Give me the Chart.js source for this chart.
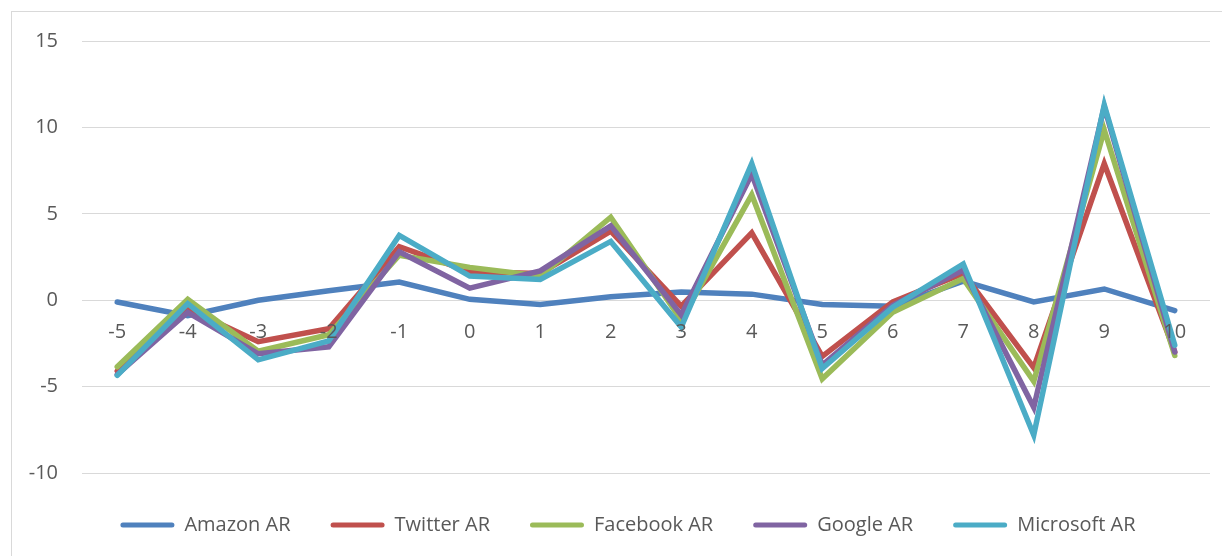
<!DOCTYPE html>
<html>
<head>
<meta charset="utf-8">
<script src="https://cdn.jsdelivr.net/npm/chart.js@4/dist/chart.umd.min.js"></script>
<style>
  html, body { margin: 0; padding: 0; background: #ffffff; overflow: hidden; }
  #wrap { position: relative; width: 1222px; height: 556px; }
  #frame { position: absolute; left: 11px; top: 11px; width: 1400px; height: 700px;
           border-left: 1px solid #d9d9d9; border-top: 1px solid #d9d9d9; pointer-events: none; }
  canvas { position: absolute; left: 0; top: 0; }
</style>
</head>
<body>
<div id="wrap">
  <canvas id="c" width="1222" height="556"></canvas>
  <div id="frame"></div>
</div>
<script>
const categories = ['-5','-4','-3','-2','-1','0','1','2','3','4','5','6','7','8','9','10'];
const amazonAR    = [-0.1, -0.9, 0.0, 0.55, 1.05, 0.05, -0.25, 0.2, 0.48, 0.35, -0.25, -0.35, 1.1, -0.1, 0.65, -0.6];
const twitterAR   = [-4.1, -0.5, -2.4, -1.65, 3.1, 1.65, 1.55, 4.0, -0.35, 3.9, -3.25, -0.1, 1.55, -3.9, 7.9, -3.0];
const facebookAR  = [-3.85, 0.05, -2.95, -2.0, 2.6, 1.9, 1.4, 4.8, -1.15, 6.1, -4.55, -0.7, 1.25, -4.7, 9.85, -3.2];
const googleAR    = [-4.3, -0.7, -3.1, -2.7, 2.8, 0.7, 1.7, 4.3, -0.85, 7.3, -3.75, -0.3, 1.75, -6.2, 11.2, -3.0];
const microsoftAR = [-4.35, -0.2, -3.45, -2.35, 3.75, 1.4, 1.2, 3.4, -1.55, 7.9, -3.95, -0.4, 2.1, -7.8, 11.3, -2.6];
const seriesNames = ['Amazon AR', 'Twitter AR', 'Facebook AR', 'Google AR', 'Microsoft AR'];
const yTicks = [-10, -5, 0, 5, 10, 15];

const colors = ['#4F81BD', '#C0504D', '#9BBB59', '#8064A2', '#4BACC6'];
const seriesData = [amazonAR, twitterAR, facebookAR, googleAR, microsoftAR];

const FONT = { family: '"Open Sans", "Noto Sans", sans-serif', size: 20 };
const TEXT = '#595959';

const datasets = seriesData.map((d, i) => ({
  label: seriesNames[i],
  data: d,
  borderColor: colors[i],
  backgroundColor: colors[i],
  borderWidth: 5.5,
  borderCapStyle: 'round',
  borderJoinStyle: 'miter',
  pointRadius: 0,
  pointHoverRadius: 0,
  tension: 0,
  fill: false,
  order: seriesData.length - 1 - i
}));

// shift the legend box so that it is centred like the reference
const legendShift = {
  id: 'legendShift',
  beforeDraw(chart) {
    const lg = chart.legend;
    if (lg) { lg.left = 46; lg.right = 1210; lg.width = 1164; }
  }
};

new Chart(document.getElementById('c'), {
  type: 'line',
  data: { labels: categories, datasets },
  plugins: [legendShift],
  options: {
    responsive: false,
    animation: false,
    devicePixelRatio: 1,
    layout: { padding: { left: 0, right: 12, top: 41, bottom: 11 } },
    plugins: {
      tooltip: { enabled: false },
      legend: {
        position: 'bottom',
        labels: {
          color: TEXT,
          font: FONT,
          boxWidth: 54,
          boxHeight: 5,
          padding: 40,
          useBorderRadius: true,
          borderRadius: 2.5,
          sort: (a, b) => a.datasetIndex - b.datasetIndex,
          generateLabels: (chart) => {
            const items = Chart.defaults.plugins.legend.labels.generateLabels(chart);
            return items.map(it => Object.assign(it, {
              fillStyle: colors[it.datasetIndex],
              strokeStyle: colors[it.datasetIndex],
              lineWidth: 0,
              borderRadius: 2.5
            }));
          }
        }
      }
    },
    scales: {
      x: {
        type: 'category',
        position: { y: 0 },
        offset: true,
        grid: { display: false, drawTicks: false },
        border: { display: false },
        ticks: { color: TEXT, font: FONT, padding: 20, z: 1, maxRotation: 0, autoSkip: false }
      },
      xSpacer: {
        type: 'category',
        position: 'bottom',
        display: true,
        grid: { display: false, drawTicks: false },
        border: { display: false },
        ticks: { display: false },
        afterFit: (s) => { s.height = 2; }
      },
      y: {
        min: -10,
        max: 15,
        position: 'left',
        afterFit: (s) => { s.width = 82; },
        afterBuildTicks: (s) => { s.ticks = yTicks.map(v => ({ value: v })); },
        grid: { color: '#d9d9d9', lineWidth: 1, drawTicks: false },
        border: { display: false },
        ticks: { color: TEXT, font: FONT, padding: 24 }
      }
    }
  }
});
</script>
</body>
</html>
